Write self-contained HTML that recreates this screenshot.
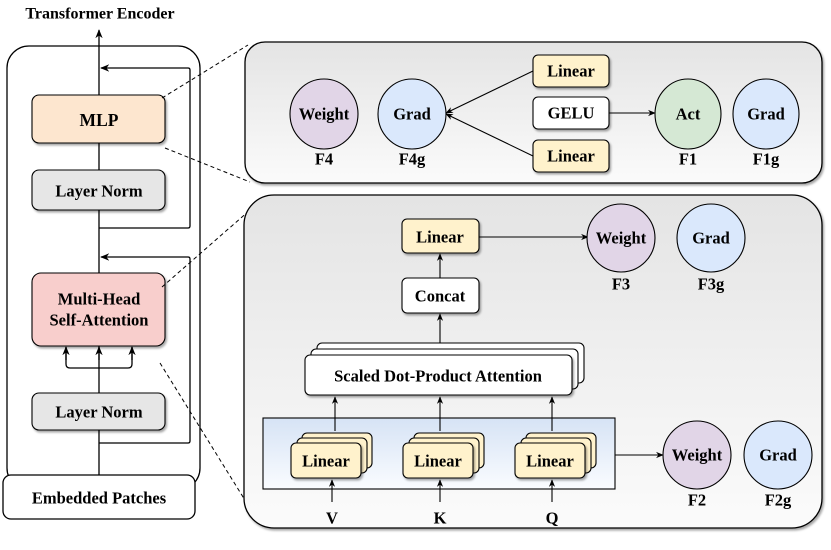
<!DOCTYPE html>
<html><head><meta charset="utf-8"><style>
html,body{margin:0;padding:0;background:#fff;}
svg{display:block;}
text{font-family:"Liberation Serif",serif;font-weight:bold;fill:#000;text-anchor:middle;dominant-baseline:central;}
</style></head><body>
<svg width="831" height="550" viewBox="0 0 831 550" xmlns="http://www.w3.org/2000/svg">
<defs>
<marker id="a" viewBox="0 0 10 10" refX="9" refY="5" markerWidth="7" markerHeight="7" orient="auto-start-reverse"><path d="M0,1 L10,5 L0,9 L3,5 z" fill="#000"/></marker>
<linearGradient id="pg" x1="0" y1="0" x2="0" y2="1"><stop offset="0" stop-color="#e4e4e4"/><stop offset="1" stop-color="#fbfbfb"/></linearGradient>
<linearGradient id="bg" x1="0" y1="0" x2="0" y2="1"><stop offset="0" stop-color="#d6e3f5"/><stop offset="1" stop-color="#fafcff"/></linearGradient>
<filter id="sh" x="-10%" y="-10%" width="130%" height="140%"><feDropShadow dx="1.5" dy="2" stdDeviation="1" flood-color="#000" flood-opacity="0.35"/></filter>
</defs>

<text x="100" y="14" font-size="16">Transformer Encoder</text>
<rect x="7" y="46" width="193" height="444" rx="22" fill="#fff" stroke="#000" stroke-width="1.3"/>
<line x1="99" y1="500" x2="99" y2="30" stroke="#000" stroke-width="1.3" marker-end="url(#a)"/>
<path d="M99 228 H188 Q190 228 190 226 V70 Q190 68 188 68 H101" fill="none" stroke="#000" stroke-width="1.3" marker-end="url(#a)"/>
<path d="M99 443 H188 Q190 443 190 441 V259 Q190 257 188 257 H101" fill="none" stroke="#000" stroke-width="1.3" marker-end="url(#a)"/>
<path d="M99 368 H70 Q66 368 66 364 V347 M99 368 H128 Q132 368 132 364 V347" fill="none" stroke="#000" stroke-width="1.3"/>
<line x1="66" y1="360" x2="66" y2="347" stroke="#000" stroke-width="1.3" marker-end="url(#a)"/>
<line x1="132" y1="360" x2="132" y2="347" stroke="#000" stroke-width="1.3" marker-end="url(#a)"/>
<line x1="99" y1="360" x2="99" y2="347" stroke="#000" stroke-width="1.3" marker-end="url(#a)"/>

<rect x="32" y="95" width="133" height="48" rx="7" fill="#fde6cf" stroke="#000" stroke-width="1.1" filter="url(#sh)"/>
<text x="99" y="120" font-size="17.5">MLP</text>
<rect x="32" y="170" width="133" height="40" rx="7" fill="#e6e6e6" stroke="#000" stroke-width="1.1" filter="url(#sh)"/>
<text x="99" y="191" font-size="16.5">Layer Norm</text>
<rect x="32" y="273" width="133" height="73" rx="9" fill="#f8cecc" stroke="#000" stroke-width="1.1" filter="url(#sh)"/>
<text x="99" y="299" font-size="16.5">Multi-Head</text>
<text x="99" y="320" font-size="16.5">Self-Attention</text>
<rect x="32" y="393" width="133" height="37" rx="7" fill="#e6e6e6" stroke="#000" stroke-width="1.1" filter="url(#sh)"/>
<text x="99" y="412" font-size="16.5">Layer Norm</text>
<rect x="3" y="475" width="192" height="44" rx="8" fill="#fff" stroke="#000" stroke-width="1.3"/>
<text x="99" y="498" font-size="16.5">Embedded Patches</text>

<g stroke="#000" stroke-width="1" stroke-dasharray="4,3" fill="none">
<line x1="162" y1="98" x2="248" y2="45"/>
<line x1="165" y1="148" x2="250" y2="182"/>
<line x1="162" y1="287" x2="258" y2="203"/>
<line x1="160" y1="363" x2="248" y2="505"/>
</g>

<rect x="245" y="42" width="577" height="141" rx="20" fill="url(#pg)" stroke="#000" stroke-width="1.3" filter="url(#sh)"/>
<ellipse cx="324" cy="114" rx="34" ry="35" fill="#e1d5e7" stroke="#000" stroke-width="1.1"/>
<text x="324" y="114" font-size="16.5">Weight</text>
<ellipse cx="412" cy="114" rx="34" ry="35" fill="#dae8fc" stroke="#000" stroke-width="1.1"/>
<text x="412" y="114" font-size="16.5">Grad</text>
<text x="324" y="159" font-size="16.5">F4</text>
<text x="412" y="159" font-size="16.5">F4g</text>
<line x1="533" y1="71" x2="446" y2="113" stroke="#000" stroke-width="1.1" marker-end="url(#a)"/>
<line x1="533" y1="156" x2="446" y2="114" stroke="#000" stroke-width="1.1" marker-end="url(#a)"/>
<line x1="609" y1="113" x2="655" y2="113" stroke="#000" stroke-width="1.1" marker-end="url(#a)"/>
<rect x="533" y="55" width="76" height="32" rx="5" fill="#fff2cc" stroke="#000" stroke-width="1.1" filter="url(#sh)"/>
<text x="571" y="71" font-size="16.5">Linear</text>
<rect x="533" y="97" width="76" height="32" rx="5" fill="#fff" stroke="#000" stroke-width="1.1" filter="url(#sh)"/>
<text x="571" y="113" font-size="16.5">GELU</text>
<rect x="533" y="140" width="76" height="32" rx="5" fill="#fff2cc" stroke="#000" stroke-width="1.1" filter="url(#sh)"/>
<text x="571" y="156" font-size="16.5">Linear</text>
<ellipse cx="688" cy="114" rx="33" ry="35" fill="#d5e8d4" stroke="#000" stroke-width="1.1"/>
<text x="688" y="114" font-size="16.5">Act</text>
<ellipse cx="766" cy="114" rx="33" ry="35" fill="#dae8fc" stroke="#000" stroke-width="1.1"/>
<text x="766" y="114" font-size="16.5">Grad</text>
<text x="688" y="159" font-size="16.5">F1</text>
<text x="766" y="159" font-size="16.5">F1g</text>

<rect x="244" y="195" width="578" height="333" rx="30" fill="url(#pg)" stroke="#000" stroke-width="1.3" filter="url(#sh)"/>
<rect x="402" y="219" width="77" height="34" rx="5" fill="#fff2cc" stroke="#000" stroke-width="1.1" filter="url(#sh)"/>
<text x="440" y="237" font-size="16.5">Linear</text>
<line x1="479" y1="237" x2="588" y2="237" stroke="#000" stroke-width="1.1" marker-end="url(#a)"/>
<circle cx="621" cy="238" r="34" fill="#e1d5e7" stroke="#000" stroke-width="1.1"/>
<text x="621" y="238" font-size="16.5">Weight</text>
<circle cx="711" cy="238" r="34" fill="#dae8fc" stroke="#000" stroke-width="1.1"/>
<text x="711" y="238" font-size="16.5">Grad</text>
<text x="621" y="284" font-size="16.5">F3</text>
<text x="711" y="284" font-size="16.5">F3g</text>
<line x1="440" y1="278" x2="440" y2="254" stroke="#000" stroke-width="1.1" marker-end="url(#a)"/>
<rect x="402" y="278" width="77" height="35" rx="5" fill="#fff" stroke="#000" stroke-width="1.1" filter="url(#sh)"/>
<text x="440" y="296" font-size="16.5">Concat</text>
<line x1="440" y1="343" x2="440" y2="314" stroke="#000" stroke-width="1.1" marker-end="url(#a)"/>
<rect x="317" y="343" width="267" height="40" rx="5" fill="#fff" stroke="#000" stroke-width="1.1"/>
<rect x="311" y="349" width="267" height="40" rx="5" fill="#fff" stroke="#000" stroke-width="1.1"/>
<rect x="305" y="355" width="267" height="40" rx="5" fill="#fff" stroke="#000" stroke-width="1.1" filter="url(#sh)"/>
<text x="438" y="376" font-size="16.5">Scaled Dot-Product Attention</text>

<rect x="263" y="418" width="352" height="71" fill="url(#bg)" stroke="#000" stroke-width="1.1"/>
<line x1="615" y1="455" x2="663" y2="455" stroke="#000" stroke-width="1.1" marker-end="url(#a)"/>
<g stroke="#000" stroke-width="1.1">
<line x1="335" y1="431" x2="335" y2="397" marker-end="url(#a)"/>
<line x1="440" y1="431" x2="440" y2="397" marker-end="url(#a)"/>
<line x1="552" y1="431" x2="552" y2="397" marker-end="url(#a)"/>
<line x1="332" y1="502" x2="332" y2="480" marker-end="url(#a)"/>
<line x1="440" y1="502" x2="440" y2="480" marker-end="url(#a)"/>
<line x1="552" y1="502" x2="552" y2="480" marker-end="url(#a)"/>
</g>
<g stroke="#000" stroke-width="1.1" fill="#fff2cc">
<rect x="302" y="433" width="70" height="35" rx="5"/>
<rect x="297" y="438" width="70" height="35" rx="5"/>
<rect x="291" y="443" width="70" height="35" rx="5" filter="url(#sh)"/>
<rect x="414" y="433" width="70" height="35" rx="5"/>
<rect x="409" y="438" width="70" height="35" rx="5"/>
<rect x="403" y="443" width="70" height="35" rx="5" filter="url(#sh)"/>
<rect x="526" y="433" width="70" height="35" rx="5"/>
<rect x="521" y="438" width="70" height="35" rx="5"/>
<rect x="515" y="443" width="70" height="35" rx="5" filter="url(#sh)"/>
</g>
<text x="326" y="461" font-size="16.5">Linear</text>
<text x="438" y="461" font-size="16.5">Linear</text>
<text x="550" y="461" font-size="16.5">Linear</text>
<text x="332" y="518" font-size="16.5">V</text>
<text x="440" y="518" font-size="16.5">K</text>
<text x="552" y="518" font-size="16.5">Q</text>

<circle cx="697" cy="455" r="34" fill="#e1d5e7" stroke="#000" stroke-width="1.1"/>
<text x="697" y="455" font-size="16.5">Weight</text>
<circle cx="778" cy="455" r="34" fill="#dae8fc" stroke="#000" stroke-width="1.1"/>
<text x="778" y="455" font-size="16.5">Grad</text>
<text x="697" y="500" font-size="16.5">F2</text>
<text x="778" y="500" font-size="16.5">F2g</text>
</svg>
</body></html>
